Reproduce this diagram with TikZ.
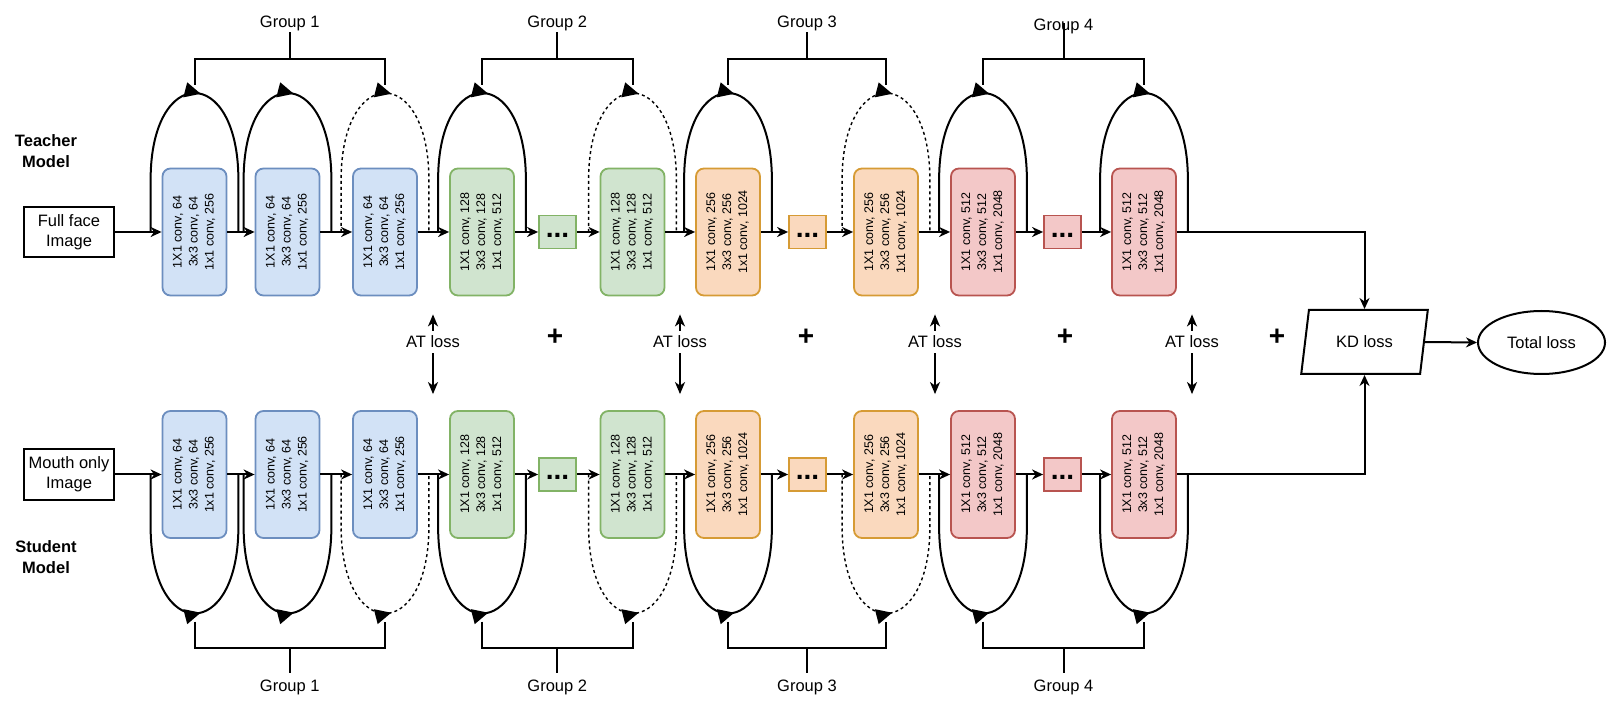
\documentclass[tikz,border=0pt]{standalone}
\usepackage{fontspec}
\setmainfont{Liberation Sans}
\usepackage{graphicx}
\usetikzlibrary{positioning,arrows.meta,shapes.geometric,decorations.markings}

\definecolor{bluefill}{HTML}{D2E2F6}
\definecolor{blueline}{HTML}{6C8EBF}
\definecolor{greenfill}{HTML}{D0E4CF}
\definecolor{greenline}{HTML}{82B366}
\definecolor{orangefill}{HTML}{FAD9BE}
\definecolor{orangeline}{HTML}{D69B35}
\definecolor{redfill}{HTML}{F3C8C8}
\definecolor{redline}{HTML}{B85450}

\newcommand{\convblock}[2]{\rotatebox{90}{\begin{tabular}{@{}c@{}}1X1 conv, #1\\3x3 conv, #1\\1x1 conv, #2\end{tabular}}}

\tikzset{
  blk/.style={draw=#1line, fill=#1fill, line width=1.8pt, rounded corners=8pt,
    minimum width=64pt, minimum height=127pt, inner sep=0pt,
    font=\fontsize{12.5}{16}\selectfont},
  dotbox/.style={draw=#1line, fill=#1fill, line width=1.8pt,
    minimum width=37pt, minimum height=33pt, inner sep=0pt,
    font=\fontsize{28}{26}\selectfont\bfseries},
  inbox/.style={draw, line width=2pt, minimum width=90pt, minimum height=50pt,
    inner sep=0pt, align=center, font=\fontsize{16.5}{20}\selectfont},
  modellab/.style={align=center, font=\fontsize{16.5}{21}\selectfont\bfseries},
  fwd/.style={line width=2pt, -{Stealth[length=11pt,width=10pt,inset=3.5pt]}},
  resid/.style={line width=2pt,
    postaction={decorate, decoration={markings,
      mark=at position 0.52 with {\arrow{Triangle[length=16pt,width=15pt]}}}}},
  residdash/.style={resid, line width=1.4pt, dashed},
  bracket/.style={line width=2pt},
  grp/.style={inner sep=1pt, font=\fontsize{16.5}{20}\selectfont},
  atarrow/.style={line width=2pt,
    {Stealth[length=12pt,width=10pt,inset=3.5pt]}-{Stealth[length=12pt,width=10pt,inset=3.5pt]}},
  atlab/.style={fill=white, inner sep=5pt, font=\fontsize{16.5}{20}\selectfont},
  plussign/.style={inner sep=0pt, font=\fontsize{28}{28}\selectfont\bfseries},
  kdbox/.style={draw, line width=2pt, trapezium, trapezium left angle=72,
    trapezium right angle=108, trapezium stretches=true,
    minimum width=127pt, minimum height=64pt, inner sep=0pt,
    font=\fontsize{16.5}{20}\selectfont},
  totbox/.style={draw, line width=2pt, ellipse, minimum width=127pt,
    minimum height=63pt, inner sep=0pt, font=\fontsize{16.5}{20}\selectfont}
}

\begin{document}
\begin{tikzpicture}[x=1pt,y=1pt]
  \useasboundingbox (0,0) rectangle (1619,710);

  % inputs and model names
  \node[inbox] (tin) at (69,478) {Full face\\Image};
  \node[inbox] (sin) at (69,235.5) {Mouth only\\Image};
  \node[modellab] (tmodel) at (46,559) {Teacher\\Model};
  \node[modellab] (smodel) at (46,153) {Student\\Model};

  % residual blocks, teacher on top, student below
  \foreach \nm/\x/\c/\p/\q in {b1/194.5/blue/64/256, b2/287.5/blue/64/256,
      b3/385/blue/64/256, g1/482/green/128/512, g2/632.5/green/128/512,
      o1/728/orange/256/1024, o2/886/orange/256/1024,
      r1/983/red/512/2048, r2/1144/red/512/2048} {
    \node[blk=\c] (t\nm) at (\x,478) {\convblock{\p}{\q}};
    \node[blk=\c, below of=t\nm, node distance=242.5pt] (s\nm) {\convblock{\p}{\q}};
  }
  \foreach \nm/\x/\c in {gd/557.5/green, od/807.5/orange, rd/1062.5/red} {
    \node[dotbox=\c] (t\nm) at (\x,478) {\strut...};
    \node[dotbox=\c, below of=t\nm, node distance=242.5pt] (s\nm) {\strut...};
  }

  % main flow
  \foreach \a/\b in {in/b1, b1/b2, b2/b3, b3/g1, g1/gd, gd/g2, g2/o1,
      o1/od, od/o2, o2/r1, r1/rd, rd/r2} {
    \draw[fwd] (t\a.east) -- (t\b.west);
    \draw[fwd] (s\a.east) -- (s\b.west);
  }

  % skip connections
  \foreach \nm/\st in {b1/resid, b2/resid, b3/residdash, g1/resid, g2/residdash,
      o1/resid, o2/residdash, r1/resid, r2/resid} {
    \draw[\st] ([xshift=-11pt]t\nm.west) -- ([xshift=-11pt,yshift=52pt]t\nm.west)
      .. controls +(0,116) and +(0,116) .. ([xshift=11pt,yshift=52pt]t\nm.east)
      -- ([xshift=11pt]t\nm.east);
    \draw[\st] ([xshift=-11pt]s\nm.west) -- ([xshift=-11pt,yshift=-52pt]s\nm.west)
      .. controls +(0,-116) and +(0,-116) .. ([xshift=11pt,yshift=-52pt]s\nm.east)
      -- ([xshift=11pt]s\nm.east);
  }

  % group brackets
  \foreach \g/\a/\b/\d in {1/b1/b3/27, 2/g1/g2/27, 3/o1/o2/27, 4/r1/r2/24} {
    \draw[bracket] ([yshift=147pt]t\a.center) -- ([yshift=173pt]t\a.center)
      -- coordinate[midway] (tm\g) ([yshift=173pt]t\b.center) -- ([yshift=147pt]t\b.center);
    \node[grp, above=\d pt of tm\g] (tl\g) {Group \g};
    \draw[bracket] (tm\g) -- (tl\g.south);
    \draw[bracket] ([yshift=-147pt]s\a.center) -- ([yshift=-173pt]s\a.center)
      -- coordinate[midway] (sm\g) ([yshift=-173pt]s\b.center) -- ([yshift=-147pt]s\b.center);
    \node[grp, below=31pt of sm\g] (sl\g) {Group \g};
    \draw[bracket, shorten >=6pt] (sm\g) -- (sl\g.north);
  }
  \draw[bracket] (tl4.south) -- ([yshift=3pt]tl4.center);

  % attention transfer losses
  \foreach \x [count=\i] in {433,680,935,1192} {
    \coordinate (at\i) at (\x,0);
    \draw[atarrow, shorten <=18pt, shorten >=16pt] (at\i |- tb1.south)
      -- node[pos=0.4, atlab] (atl\i) {AT loss} (at\i |- sb1.north);
  }
  \foreach \x [count=\i] in {555,806,1065,1277}
    \node[plussign] (plus\i) at (\x,373) {+};

  % distillation loss
  \node[kdbox] (kd) at (1364.5,368) {KD loss};
  \node[totbox] (tot) at (1541.5,367.5) {Total loss};
  \draw[fwd] (tr2.east) -| (kd.north);
  \draw[fwd] (sr2.east) -| (kd.south);
  \draw[fwd] (kd.east) -- (tot.west);
\end{tikzpicture}
\end{document}
